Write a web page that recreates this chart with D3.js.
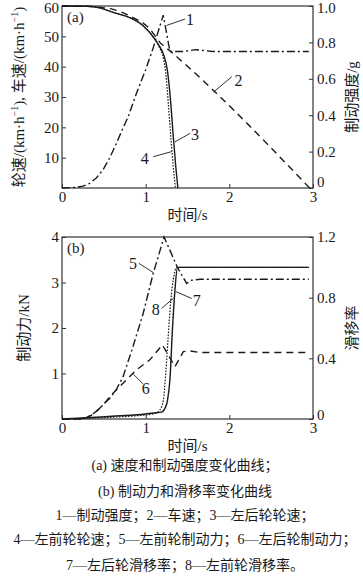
<!DOCTYPE html>
<html lang="zh">
<head>
<meta charset="UTF-8">
<title>制动过程曲线</title>
<style>
    body { margin: 0; background: #fff; }
    svg { display: block; }
    text { font-family: "Liberation Serif", "Noto Sans CJK SC", serif; fill: #1a1a1a; }
</style>
</head>
<body>
<script src="https://cdn.jsdelivr.net/npm/d3@7/dist/d3.min.js"></script>
<script>
    const width = 363
    const height = 576

    // 坐标刻度
    const timeTicks = [0, 1, 2, 3]
    const speedTicks = [10, 20, 30, 40, 50, 60]
    const intensityTicks = [0, 0.2, 0.4, 0.6, 0.8, 1.0]
    const forceTicks = [1, 2, 3, 4]
    const slipTicks = [0, 0.4, 0.8, 1.2]

    // 1 制动强度 /g
    const intensityT = [0, 0.15, 0.25, 0.33, 0.41, 0.49, 0.57, 0.65, 0.72, 0.79, 0.89, 1.0, 1.09, 1.21, 1.29, 1.45, 1.6, 1.8, 2.95]
    const intensityV = [0, 0.003, 0.01, 0.025, 0.055, 0.1, 0.165, 0.245, 0.32, 0.39, 0.52, 0.65, 0.77, 0.95, 0.75, 0.75, 0.76, 0.75, 0.75]
    // 2 车速
    const vehicleT = [0, 0.3, 0.5, 0.61, 0.81, 1.05, 1.17, 1.29, 2.96]
    const vehicleV = [60, 59.9, 59.4, 58.9, 56.7, 52.4, 48, 45.2, 0]
    // 3 左后轮轮速
    const rearWheelT = [0, 0.3, 0.45, 0.61, 0.81, 0.97, 1.11, 1.17, 1.21, 1.26, 1.3, 1.33, 1.36, 1.385]
    const rearWheelV = [60, 59.9, 59.4, 57.9, 56.2, 53.5, 49.1, 46.5, 44.3, 38.7, 28, 17, 7, 0]
    // 4 左前轮轮速
    const frontWheelT = [0, 0.3, 0.45, 0.61, 0.81, 0.97, 1.11, 1.17, 1.21, 1.24, 1.27, 1.3, 1.33, 1.355]
    const frontWheelV = [60, 59.9, 59.4, 57.9, 56.1, 53.4, 48.9, 46, 43, 38, 28, 17, 7, 0]
    // 5 左前轮制动力 /kN
    const frontForceT = [0, 0.2, 0.27, 0.35, 0.43, 0.51, 0.57, 0.65, 0.73, 0.85, 0.97, 1.09, 1.22, 1.38, 1.49, 1.55, 1.65, 2.95]
    const frontForceV = [0, 0, 0.02, 0.08, 0.2, 0.35, 0.45, 0.65, 0.93, 1.6, 2.32, 3.2, 4.0, 3.33, 2.98, 3.05, 3.07, 3.07]
    // 6 左后轮制动力 /kN
    const rearForceT = [0, 0.2, 0.27, 0.35, 0.43, 0.51, 0.57, 0.67, 0.77, 0.89, 1.05, 1.2, 1.35, 1.45, 1.52, 1.65, 2.95]
    const rearForceV = [0, 0, 0.02, 0.08, 0.2, 0.35, 0.49, 0.68, 0.86, 1.08, 1.3, 1.63, 1.15, 1.48, 1.5, 1.46, 1.46]
    // 7 左后轮滑移率
    const rearSlipT = [0, 0.3, 0.6, 0.9, 1.1, 1.19, 1.23, 1.26, 1.29, 1.32, 1.35, 1.38, 2.95]
    const rearSlipV = [0, 0.008, 0.018, 0.028, 0.04, 0.045, 0.07, 0.12, 0.26, 0.59, 0.85, 1.0, 1.0]
    // 8 左前轮滑移率
    const frontSlipT = [0, 0.3, 0.6, 0.9, 1.1, 1.17, 1.21, 1.24, 1.27, 1.3, 1.33, 1.37, 2.95]
    const frontSlipV = [0, 0.005, 0.012, 0.022, 0.035, 0.06, 0.12, 0.3, 0.55, 0.78, 0.92, 1.0, 1.0]

    const captions = [
        '(a)  速度和制动强度变化曲线；',
        '(b)  制动力和滑移率变化曲线',
        '1—制动强度；2—车速；3—左后轮轮速；',
        '4—左前轮轮速；5—左前轮制动力；6—左后轮制动力；',
        '7—左后轮滑移率；8—左前轮滑移率。'
    ]

    const dash = {
        solid: null,
        dashed: '7,5',
        dashdot: '8,3,2,3',
        dotted: '1.6,1.4'
    }

    const svg = d3.select('body').append('svg')
        .attr('width', width)
        .attr('height', height)

    const left = 62
    const right = 313

    drawPanel({
        top: 6, bottom: 188, tag: '(a)',
        yDomain: [0, 60], yTicks: speedTicks, yFmt: d => d,
        y2Domain: [0, 1], y2Ticks: intensityTicks, y2Fmt: d => d === 0 ? '0' : d.toFixed(1),
        yTitle: 'speed', y2Title: '制动强度/g', zeroLift: 6, topDrop: 2,
        lines: [
            { t: intensityT, v: intensityV, axis: 2, style: 'dashdot', curve: d3.curveLinear },
            { t: vehicleT, v: vehicleV, axis: 1, style: 'dashed', curve: d3.curveMonotoneX },
            { t: frontWheelT, v: frontWheelV, axis: 1, style: 'dotted', curve: d3.curveMonotoneX },
            { t: rearWheelT, v: rearWheelV, axis: 1, style: 'solid', curve: d3.curveMonotoneX }
        ],
        notes: [
            { text: '1', at: [1.53, 55.7], from: [1.25, 53.6], to: [1.47, 55.7] },
            { text: '2', at: [2.11, 35.4], from: [1.81, 31.6], to: [2.03, 36.7] },
            { text: '3', at: [1.59, 17.5], from: [1.35, 15.2], to: [1.53, 18.0] },
            { text: '4', at: [0.99, 9.8], from: [1.09, 10.3], to: [1.31, 12.0] }
        ]
    })

    drawPanel({
        top: 237, bottom: 419, tag: '(b)',
        yDomain: [0, 4], yTicks: forceTicks, yFmt: d => d,
        y2Domain: [0, 1.2], y2Ticks: slipTicks, y2Fmt: d => d === 0 ? '0' : d.toFixed(1),
        yTitle: '制动力/kN', y2Title: '滑移率', zeroLift: 4, topDrop: 0,
        lines: [
            { t: frontForceT, v: frontForceV, axis: 1, style: 'dashdot', curve: d3.curveLinear },
            { t: rearForceT, v: rearForceV, axis: 1, style: 'dashed', curve: d3.curveLinear },
            { t: frontSlipT, v: frontSlipV, axis: 2, style: 'dotted', curve: d3.curveMonotoneX },
            { t: rearSlipT, v: rearSlipV, axis: 2, style: 'solid', curve: d3.curveMonotoneX }
        ],
        notes: [
            { text: '5', at: [0.85, 3.42], from: [0.92, 3.42], to: [1.09, 3.22] },
            { text: '6', at: [1.0, 0.68], from: [0.85, 0.99], to: [0.97, 0.77] },
            { text: '7', at: [1.61, 2.61], from: [1.36, 2.80], to: [1.55, 2.65] },
            { text: '8', at: [1.12, 2.40], from: [1.19, 2.43], to: [1.33, 2.65] }
        ]
    })

    // 图注
    svg.append('g')
        .selectAll('text')
        .data(captions)
        .enter()
        .append('text')
        .attr('x', 185)
        .attr('y', (_, i) => [465, 491, 515, 539, 565][i])
        .attr('text-anchor', 'middle')
        .attr('dominant-baseline', 'central')
        .style('font-size', '14px')
        .text(d => d)

    function drawPanel(cfg) {
        const x = d3.scaleLinear().domain([0, 3]).range([left, right])
        const y = d3.scaleLinear().domain(cfg.yDomain).range([cfg.bottom, cfg.top])
        const y2 = d3.scaleLinear().domain(cfg.y2Domain).range([cfg.bottom, cfg.top])
        const g = svg.append('g')

        // 坐标轴 (刻度向内)
        const styleAxis = sel => {
            sel.select('.domain').remove()
            sel.selectAll('line').attr('stroke', '#333')
            sel.selectAll('text').style('font-size', '15px').attr('fill', '#1a1a1a')
                .style('font-family', '"Liberation Serif", serif')
        }
        g.append('g').attr('transform', `translate(0,${cfg.bottom})`)
            .call(d3.axisBottom(x).tickValues(timeTicks).tickFormat(d3.format('d'))
                .tickSizeInner(-4).tickSizeOuter(0).tickPadding(3))
            .call(styleAxis)
        const ax1 = g.append('g').attr('transform', `translate(${left},0)`)
            .call(d3.axisLeft(y).tickValues(cfg.yTicks).tickFormat(cfg.yFmt)
                .tickSizeInner(-4).tickSizeOuter(0).tickPadding(3))
            .call(styleAxis)
        const ax2 = g.append('g').attr('transform', `translate(${right},0)`)
            .call(d3.axisRight(y2).tickValues(cfg.y2Ticks).tickFormat(cfg.y2Fmt)
                .tickSizeInner(-4).tickSizeOuter(0).tickPadding(4))
            .call(styleAxis)
        // 右轴 0 稍上移, 避开横轴的 3
        ax2.selectAll('.tick text').filter(d => d === 0).attr('dy', `${0.32 - cfg.zeroLift / 15}em`)
        // 顶端刻度字稍下移, 免得被裁掉
        const topV1 = cfg.yTicks[cfg.yTicks.length - 1]
        const topV2 = cfg.y2Ticks[cfg.y2Ticks.length - 1]
        ax1.selectAll('.tick text').filter(d => d === topV1).attr('dy', `${0.32 + cfg.topDrop / 15}em`)
        ax2.selectAll('.tick text').filter(d => d === topV2).attr('dy', `${0.32 + cfg.topDrop / 15}em`)

        g.append('rect')
            .attr('x', left).attr('y', cfg.top)
            .attr('width', right - left).attr('height', cfg.bottom - cfg.top)
            .attr('fill', 'none').attr('stroke', '#333').attr('stroke-width', 1.2)

        // 曲线
        cfg.lines.forEach(l => {
            const sy = l.axis === 1 ? y : y2
            const line = d3.line()
                .x(i => x(l.t[i]))
                .y(i => sy(l.v[i]))
                .curve(l.curve)
            g.append('path')
                .attr('d', line(d3.range(l.t.length)))
                .attr('fill', 'none')
                .attr('stroke', '#1a1a1a')
                .attr('stroke-width', l.style === 'dotted' ? 1.2 : 1.4)
                .attr('stroke-dasharray', dash[l.style])
        })

        // 编号引线
        const notes = g.append('g').selectAll('g').data(cfg.notes).enter().append('g')
        notes.append('line')
            .attr('x1', d => x(d.from[0])).attr('y1', d => y(d.from[1]))
            .attr('x2', d => x(d.to[0])).attr('y2', d => y(d.to[1]))
            .attr('stroke', '#1a1a1a').attr('stroke-width', 0.9)
        notes.append('text')
            .attr('x', d => x(d.at[0])).attr('y', d => y(d.at[1]))
            .attr('text-anchor', 'middle')
            .attr('dominant-baseline', 'central')
            .style('font-size', '16px')
            .text(d => d.text)

        g.append('text')
            .attr('x', left + 5).attr('y', cfg.top + 11)
            .attr('dominant-baseline', 'central')
            .style('font-size', '15px')
            .text(cfg.tag)

        // 轴标题
        g.append('text')
            .attr('x', (left + right) / 2).attr('y', cfg.bottom + 27)
            .attr('text-anchor', 'middle')
            .attr('dominant-baseline', 'central')
            .style('font-size', '15px')
            .text('时间/s')

        const midY = (cfg.top + cfg.bottom) / 2
        const t1 = g.append('text')
            .attr('transform', `translate(${cfg.yTitle === 'speed' ? 19 : 24},${midY}) rotate(-90)`)
            .attr('text-anchor', 'middle')
            .attr('dominant-baseline', 'central')
            .style('font-size', '15px')
        if (cfg.yTitle === 'speed') {
            t1.append('tspan').text('轮速/(km·h')
            t1.append('tspan').text('−1').style('font-size', '10px').attr('dy', -5)
            t1.append('tspan').text('), 车速/(km·h').attr('dy', 5)
            t1.append('tspan').text('−1').style('font-size', '10px').attr('dy', -5)
            t1.append('tspan').text(')').attr('dy', 5)
        } else {
            t1.text(cfg.yTitle)
        }

        g.append('text')
            .attr('transform', `translate(352,${midY}) rotate(-90)`)
            .attr('text-anchor', 'middle')
            .attr('dominant-baseline', 'central')
            .style('font-size', '15px')
            .text(cfg.y2Title)
    }
</script>
</body>
</html>
